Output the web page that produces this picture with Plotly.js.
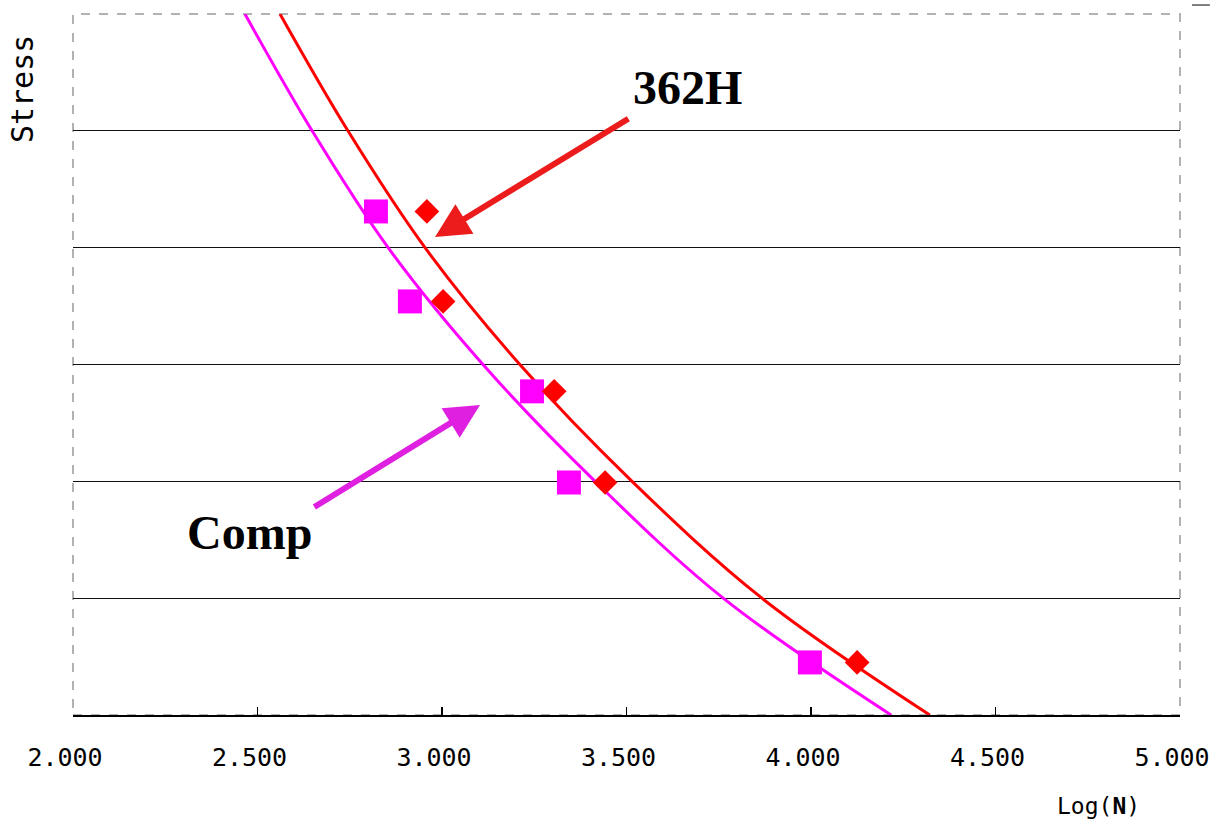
<!DOCTYPE html>
<html>
<head>
<meta charset="utf-8">
<script src="https://cdn.plot.ly/plotly-3.0.1.min.js"></script>
<style>
  html, body { margin: 0; padding: 0; background: #fff; }
  #chart { width: 1216px; height: 825px; }
</style>
</head>
<body>
<div id="chart"></div>
<script>
// ---- data ----
const xTickVals = [2.0, 2.5, 3.0, 3.5, 4.0, 4.5, 5.0];
const xTickLabels = ['2.000', '2.500', '3.000', '3.500', '4.000', '4.500', '5.000'];
const stressGrid = [1, 2, 3, 4, 5];

// test points (Log N, Stress)
const h362LogN   = [2.959, 3.003, 3.304, 3.442, 4.125];
const h362Stress = [4.31, 3.54, 2.77, 1.99, 0.45];
const compLogN   = [2.821, 2.913, 3.244, 3.344, 3.997];
const compStress = [4.31, 3.54, 2.77, 1.99, 0.45];

// fitted curves
const fitStress   = [6, 5, 4, 3, 2, 1, 0];
const h362FitLogN = [2.561, 2.745, 2.954, 3.211, 3.515, 3.867, 4.322];
const compFitLogN = [2.466, 2.648, 2.854, 3.111, 3.415, 3.762, 4.217];

// annotation arrows (head / tail in data units)
const arrow362  = { head: [2.981, 4.092], tail: [3.509, 5.111] };
const arrowComp = { head: [3.103, 2.654], tail: [2.650, 1.772] };

const traces = [
  { x: compFitLogN, y: fitStress, mode: 'lines', line: { color: '#FF00FF', width: 3, shape: 'spline' }, name: 'Comp fit', hoverinfo: 'skip' },
  { x: h362FitLogN, y: fitStress, mode: 'lines', line: { color: '#FF0000', width: 3, shape: 'spline' }, name: '362H fit', hoverinfo: 'skip' },
  { x: compLogN, y: compStress, mode: 'markers', marker: { symbol: 'square', size: 24, color: '#FF00FF' }, name: 'Comp' },
  { x: h362LogN, y: h362Stress, mode: 'markers', marker: { symbol: 'diamond', size: 19, color: '#FF0000' }, name: '362H' }
];

const monoFont = 'DejaVu Sans Mono, monospace';

const layout = {
  width: 1216, height: 825,
  margin: { l: 73, r: 36, t: 14, b: 110 },
  paper_bgcolor: '#ffffff',
  plot_bgcolor: '#ffffff',
  showlegend: false,
  xaxis: {
    range: [2, 5],
    tickvals: xTickVals,
    ticktext: xTickLabels,
    showgrid: false,
    zeroline: false,
    showline: true,
    linecolor: '#000000',
    linewidth: 1.5,
    ticks: 'inside',
    ticklen: 8,
    tickwidth: 1.5,
    tickcolor: '#000000',
    tickfont: { family: monoFont, size: 25, color: '#000000' },
    ticklabelshift: -8,
    ticklabelstandoff: 19
  },
  yaxis: {
    range: [0, 6],
    tickvals: stressGrid,
    showticklabels: false,
    showgrid: true,
    gridcolor: '#111111',
    gridwidth: 1.3,
    zeroline: false,
    showline: false,
    ticks: ''
  },
  shapes: [
    { type: 'rect', xref: 'paper', yref: 'paper', x0: 0, x1: 1, y0: 0, y1: 1,
      line: { color: '#999999', width: 1.5, dash: 'dash' }, layer: 'below' },
    { type: 'line', xref: 'paper', yref: 'paper', x0: 1.0108, x1: 1.027, y0: 1.0128, y1: 1.0128,
      line: { color: '#555555', width: 1.5 } }
  ],
  annotations: [
    { xref: 'paper', yref: 'paper', x: 0.9657, y: -0.13, xanchor: 'right', yanchor: 'middle',
      text: 'Log(<b>N</b>)', showarrow: false,
      font: { family: monoFont, size: 23, color: '#000000' } },
    { xref: 'paper', yref: 'paper', x: -0.046, y: 0.893, xanchor: 'center', yanchor: 'middle',
      text: 'Stress', textangle: -90, showarrow: false,
      font: { family: monoFont, size: 30, color: '#000000' } },
    { xref: 'x', yref: 'y', x: 3.664, y: 5.37, xanchor: 'center', yanchor: 'middle',
      text: '<b>362H</b>', showarrow: false,
      font: { family: 'Liberation Serif, serif', size: 48, color: '#000000' } },
    { xref: 'x', yref: 'y', x: 2.477, y: 1.563, xanchor: 'center', yanchor: 'middle',
      text: '<b>Comp</b>', showarrow: false,
      font: { family: 'Liberation Serif, serif', size: 48, color: '#000000' } },
    { xref: 'x', yref: 'y', axref: 'x', ayref: 'y',
      x: arrow362.head[0], y: arrow362.head[1], ax: arrow362.tail[0], ay: arrow362.tail[1],
      text: '', showarrow: true, arrowhead: 2, arrowsize: 1.15, arrowwidth: 6, arrowcolor: '#EC1C1C' },
    { xref: 'x', yref: 'y', axref: 'x', ayref: 'y',
      x: arrowComp.head[0], y: arrowComp.head[1], ax: arrowComp.tail[0], ay: arrowComp.tail[1],
      text: '', showarrow: true, arrowhead: 2, arrowsize: 1.15, arrowwidth: 6, arrowcolor: '#E020E0' }
  ]
};

Plotly.newPlot('chart', traces, layout, { displayModeBar: false, staticPlot: true });
</script>
</body>
</html>
